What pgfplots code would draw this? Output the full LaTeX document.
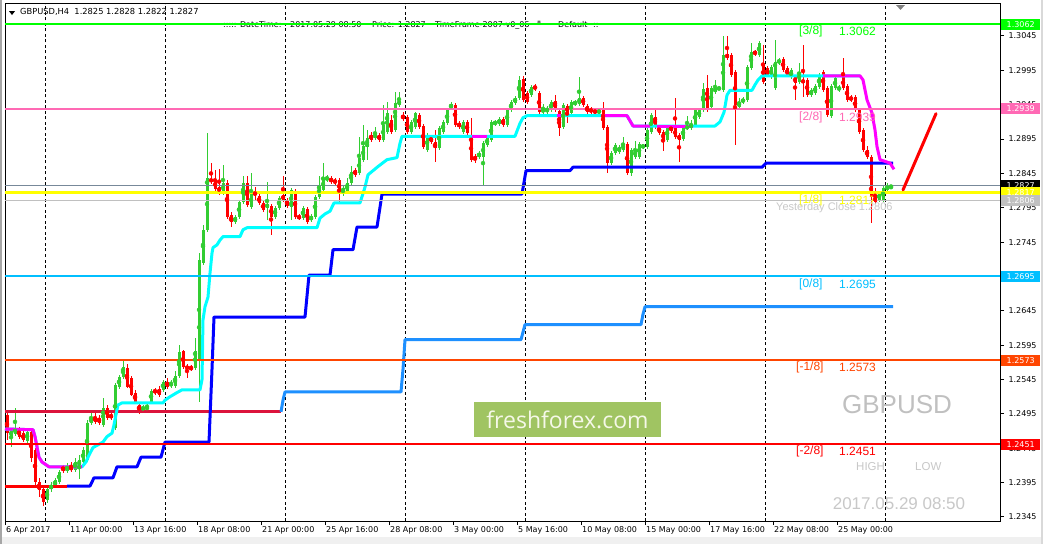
\documentclass[border=0pt]{standalone}
\usepackage{fontspec}
\setmainfont{DejaVu Sans}
\newfontfamily\arialf{Liberation Sans}
\newfontfamily\logofont{Open Sans}
\usepackage{pgfplots}
\usepackage{pgfplotstable}
\pgfplotsset{compat=1.18}

\definecolor{cgreen}{RGB}{50,205,50}
\definecolor{cred}{RGB}{255,0,0}
\definecolor{lvgreen}{RGB}{0,255,0}
\definecolor{lvpink}{RGB}{255,105,180}
\definecolor{lvyellow}{RGB}{255,255,0}
\definecolor{lvsky}{RGB}{0,191,255}
\definecolor{lvorange}{RGB}{255,69,0}
\definecolor{lvred}{RGB}{255,0,0}
\definecolor{slate}{RGB}{119,136,153}
\definecolor{silv}{RGB}{192,192,192}
\definecolor{dodger}{RGB}{30,144,255}
\definecolor{crims}{RGB}{220,20,60}
\definecolor{aqua}{RGB}{0,255,255}
\definecolor{magn}{RGB}{255,0,255}
\definecolor{logobg}{RGB}{160,196,98}
\definecolor{logotx}{RGB}{245,248,232}
\definecolor{lbl}{RGB}{200,200,200}

\newcommand\tickfont{\fontsize{8}{9}\selectfont}
\newcommand\lvfont{\arialf\fontsize{12}{14}\selectfont}

% H4 bars: index, open, high, low, close
\pgfplotstableread{
i O H L C
0 1.2494 1.2501 1.2457 1.2467
1 1.2462 1.2475 1.2447 1.2472
2 1.2466 1.2504 1.2463 1.2475
3 1.2473 1.2476 1.2459 1.2462
4 1.2467 1.2470 1.2454 1.2457
5 1.2456 1.2472 1.2453 1.2469
6 1.2469 1.2472 1.2425 1.2431
7 1.2443 1.2446 1.2392 1.2396
8 1.2396 1.2402 1.2374 1.2385
9 1.2385 1.2389 1.2361 1.2367
10 1.2370 1.2389 1.2365 1.2386
11 1.2385 1.2396 1.2382 1.2392
12 1.2390 1.2402 1.2387 1.2399
13 1.2396 1.2414 1.2393 1.2411
14 1.2419 1.2421 1.2409 1.2412
15 1.2412 1.2424 1.2409 1.2418
16 1.2418 1.2425 1.2411 1.2414
17 1.2414 1.2431 1.2411 1.2425
18 1.2419 1.2435 1.2400 1.2428
19 1.2425 1.2447 1.2422 1.2443
20 1.2428 1.2486 1.2425 1.2482
21 1.2482 1.2499 1.2479 1.2489
22 1.2491 1.2498 1.2480 1.2483
23 1.2489 1.2494 1.2479 1.2482
24 1.2479 1.2518 1.2476 1.2504
25 1.2504 1.2508 1.2486 1.2489
26 1.2494 1.2498 1.2486 1.2489
27 1.2475 1.2540 1.2472 1.2537
28 1.2534 1.2552 1.2531 1.2549
29 1.2549 1.2572 1.2546 1.2563
30 1.2562 1.2568 1.2533 1.2534
31 1.2547 1.2550 1.2521 1.2523
32 1.2526 1.2530 1.2510 1.2511
33 1.2508 1.2513 1.2495 1.2498
34 1.2502 1.2508 1.2499 1.2504
35 1.2502 1.2510 1.2501 1.2505
36 1.2513 1.2531 1.2510 1.2528
37 1.2530 1.2533 1.2523 1.2526
38 1.2531 1.2536 1.2520 1.2523
39 1.2530 1.2545 1.2527 1.2542
40 1.2542 1.2547 1.2531 1.2534
41 1.2536 1.2545 1.2533 1.2540
42 1.2536 1.2557 1.2533 1.2550
43 1.2550 1.2596 1.2547 1.2585
44 1.2586 1.2588 1.2560 1.2563
45 1.2565 1.2568 1.2547 1.2560
46 1.2563 1.2566 1.2558 1.2560
47 1.2562 1.2606 1.2559 1.2586
48 1.2574 1.2729 1.2513 1.2719
49 1.2715 1.2770 1.2712 1.2763
50 1.2763 1.2904 1.2760 1.2838
51 1.2837 1.2860 1.2830 1.2833
52 1.2836 1.2850 1.2820 1.2822
53 1.2825 1.2852 1.2814 1.2818
54 1.2817 1.2857 1.2814 1.2831
55 1.2831 1.2836 1.2779 1.2782
56 1.2785 1.2789 1.2767 1.2774
57 1.2774 1.2785 1.2771 1.2782
58 1.2782 1.2806 1.2779 1.2803
59 1.2803 1.2841 1.2801 1.2831
60 1.2831 1.2841 1.2796 1.2799
61 1.2796 1.2846 1.2793 1.2817
62 1.2818 1.2825 1.2806 1.2814
63 1.2812 1.2815 1.2799 1.2802
64 1.2802 1.2805 1.2789 1.2792
65 1.2795 1.2833 1.2777 1.2801
66 1.2798 1.2801 1.2755 1.2782
67 1.2782 1.2798 1.2779 1.2795
68 1.2795 1.2812 1.2792 1.2809
69 1.2814 1.2841 1.2803 1.2806
70 1.2806 1.2809 1.2795 1.2798
71 1.2796 1.2824 1.2777 1.2821
72 1.2820 1.2822 1.2779 1.2782
73 1.2783 1.2786 1.2777 1.2780
74 1.2780 1.2798 1.2777 1.2795
75 1.2793 1.2796 1.2771 1.2774
76 1.2777 1.2786 1.2774 1.2783
77 1.2782 1.2814 1.2779 1.2811
78 1.2811 1.2841 1.2808 1.2828
79 1.2821 1.2860 1.2815 1.2838
80 1.2837 1.2843 1.2833 1.2838
81 1.2838 1.2841 1.2830 1.2833
82 1.2836 1.2838 1.2828 1.2831
83 1.2836 1.2838 1.2802 1.2817
84 1.2818 1.2827 1.2812 1.2824
85 1.2818 1.2838 1.2815 1.2831
86 1.2831 1.2856 1.2828 1.2847
87 1.2850 1.2853 1.2840 1.2843
88 1.2846 1.2898 1.2843 1.2867
89 1.2865 1.2916 1.2862 1.2885
90 1.2884 1.2908 1.2865 1.2897
91 1.2901 1.2905 1.2891 1.2894
92 1.2897 1.2913 1.2894 1.2902
93 1.2901 1.2904 1.2891 1.2894
94 1.2894 1.2945 1.2891 1.2916
95 1.2905 1.2949 1.2902 1.2933
96 1.2923 1.2930 1.2902 1.2905
97 1.2908 1.2964 1.2905 1.2948
98 1.2945 1.2964 1.2942 1.2951
99 1.2930 1.2934 1.2921 1.2924
100 1.2927 1.2930 1.2902 1.2905
101 1.2905 1.2923 1.2902 1.2920
102 1.2913 1.2934 1.2910 1.2933
103 1.2930 1.2933 1.2910 1.2913
104 1.2914 1.2917 1.2881 1.2884
105 1.2879 1.2904 1.2876 1.2901
106 1.2898 1.2901 1.2888 1.2891
107 1.2891 1.2908 1.2862 1.2882
108 1.2882 1.2914 1.2879 1.2911
109 1.2905 1.2923 1.2902 1.2920
110 1.2918 1.2940 1.2916 1.2937
111 1.2940 1.2949 1.2937 1.2946
112 1.2945 1.2948 1.2913 1.2916
113 1.2918 1.2921 1.2910 1.2913
114 1.2905 1.2923 1.2902 1.2920
115 1.2920 1.2923 1.2901 1.2904
116 1.2898 1.2926 1.2862 1.2865
117 1.2870 1.2873 1.2860 1.2865
118 1.2869 1.2878 1.2866 1.2875
119 1.2869 1.2892 1.2828 1.2889
120 1.2887 1.2899 1.2884 1.2897
121 1.2894 1.2923 1.2891 1.2920
122 1.2917 1.2923 1.2914 1.2920
123 1.2917 1.2927 1.2914 1.2924
124 1.2924 1.2927 1.2913 1.2916
125 1.2916 1.2940 1.2913 1.2937
126 1.2937 1.2952 1.2934 1.2949
127 1.2948 1.2958 1.2945 1.2955
128 1.2955 1.2987 1.2952 1.2981
129 1.2982 1.2987 1.2949 1.2952
130 1.2962 1.2965 1.2946 1.2949
131 1.2959 1.2974 1.2956 1.2971
132 1.2972 1.2975 1.2965 1.2968
133 1.2962 1.2965 1.2932 1.2934
134 1.2934 1.2946 1.2932 1.2939
135 1.2934 1.2943 1.2932 1.2940
136 1.2937 1.2952 1.2934 1.2949
137 1.2951 1.2959 1.2934 1.2937
138 1.2936 1.2939 1.2899 1.2911
139 1.2913 1.2948 1.2910 1.2945
140 1.2943 1.2946 1.2918 1.2933
141 1.2933 1.2952 1.2930 1.2949
142 1.2946 1.2952 1.2943 1.2949
143 1.2946 1.2985 1.2943 1.2955
144 1.2955 1.2958 1.2942 1.2945
145 1.2943 1.2946 1.2932 1.2934
146 1.2939 1.2942 1.2932 1.2934
147 1.2937 1.2940 1.2930 1.2933
148 1.2933 1.2940 1.2930 1.2937
149 1.2937 1.2949 1.2908 1.2911
150 1.2913 1.2916 1.2846 1.2860
151 1.2860 1.2878 1.2857 1.2875
152 1.2875 1.2889 1.2872 1.2887
153 1.2876 1.2887 1.2873 1.2884
154 1.2879 1.2898 1.2876 1.2888
155 1.2888 1.2891 1.2843 1.2846
156 1.2846 1.2882 1.2841 1.2879
157 1.2869 1.2892 1.2866 1.2879
158 1.2869 1.2891 1.2866 1.2888
159 1.2884 1.2888 1.2881 1.2885
160 1.2884 1.2911 1.2881 1.2908
161 1.2905 1.2933 1.2902 1.2930
162 1.2927 1.2937 1.2910 1.2913
163 1.2913 1.2916 1.2901 1.2904
164 1.2905 1.2908 1.2878 1.2894
165 1.2894 1.2916 1.2891 1.2913
166 1.2913 1.2916 1.2904 1.2907
167 1.2911 1.2955 1.2895 1.2898
168 1.2901 1.2904 1.2862 1.2894
169 1.2895 1.2916 1.2892 1.2913
170 1.2911 1.2929 1.2908 1.2913
171 1.2911 1.2923 1.2908 1.2917
172 1.2916 1.2940 1.2913 1.2937
173 1.2927 1.2940 1.2924 1.2937
174 1.2937 1.2977 1.2934 1.2968
175 1.2969 1.2988 1.2934 1.2937
176 1.2942 1.2972 1.2939 1.2969
177 1.2964 1.2981 1.2961 1.2969
178 1.2968 1.2972 1.2966 1.2969
179 1.2966 1.3045 1.2963 1.3017
180 1.3019 1.3045 1.3010 1.3013
181 1.3017 1.3020 1.2985 1.2988
182 1.2993 1.2996 1.2887 1.2945
183 1.2942 1.2955 1.2939 1.2949
184 1.2949 1.2956 1.2946 1.2953
185 1.2952 1.3003 1.2949 1.3000
186 1.2998 1.3035 1.2996 1.3022
187 1.3022 1.3025 1.3016 1.3019
188 1.3017 1.3038 1.3014 1.3035
189 1.3006 1.3032 1.2975 1.2978
190 1.2998 1.3001 1.2985 1.2988
191 1.2985 1.3003 1.2982 1.3000
192 1.2969 1.3039 1.2966 1.3007
193 1.3006 1.3013 1.3003 1.3010
194 1.3011 1.3014 1.2993 1.2996
195 1.2998 1.3001 1.2985 1.2988
196 1.2985 1.2998 1.2982 1.2996
197 1.2985 1.2988 1.2952 1.2977
198 1.2978 1.3006 1.2975 1.2993
199 1.2981 1.3032 1.2956 1.2977
200 1.2981 1.2984 1.2956 1.2959
201 1.2959 1.2969 1.2956 1.2966
202 1.2962 1.2975 1.2959 1.2972
203 1.2971 1.2991 1.2968 1.2988
204 1.2993 1.2996 1.2964 1.2966
205 1.2969 1.2972 1.2927 1.2930
206 1.2929 1.2975 1.2926 1.2972
207 1.2969 1.2987 1.2966 1.2984
208 1.2966 1.2974 1.2964 1.2971
209 1.2985 1.3013 1.2966 1.2969
210 1.2972 1.2975 1.2949 1.2952
211 1.2956 1.2959 1.2949 1.2952
212 1.2956 1.2959 1.2934 1.2937
213 1.2937 1.2940 1.2902 1.2905
214 1.2908 1.2911 1.2876 1.2879
215 1.2879 1.2885 1.2866 1.2869
216 1.2869 1.2872 1.2773 1.2811
217 1.2812 1.2824 1.2801 1.2803
218 1.2806 1.2820 1.2803 1.2817
219 1.2806 1.2828 1.2803 1.2824
220 1.2821 1.2831 1.2818 1.2827
221 1.2825 1.2828 1.2822 1.2827
}\candles

\begin{document}
\begin{tikzpicture}
\fill[white] (-5pt,-23pt) rectangle (1038pt,521pt);
\fill[black!6] (-5pt,-23pt) rectangle (1038pt,-16pt);
\fill[black!35] (-5pt,-23pt) rectangle (-3pt,521pt);
\fill[black!15] (1036pt,-23pt) rectangle (1038pt,521pt);
\begin{axis}[
    at={(0pt,0pt)}, anchor=south west,
    width=995pt, height=517pt, scale only axis,
    xmin=-0.5, xmax=248.25, ymin=1.233913, ymax=1.309157,
    clip=false,
    axis line style={black, line width=1pt},
    tick align=outside,
    xtick pos=left, ytick pos=right, yticklabel pos=right,
    major tick length=4pt,
    tick style={black, line width=1pt},
    xtick={-0.5,15.5,...,207.5},
    xticklabels={6 Apr 2017, 11 Apr 00:00, 13 Apr 16:00, 18 Apr 08:00, 21 Apr 00:00, 25 Apr 16:00, 28 Apr 08:00, 3 May 00:00, 5 May 16:00, 10 May 08:00, 15 May 00:00, 17 May 16:00, 22 May 08:00, 25 May 00:00},
    xticklabel style={anchor=north west, font=\tickfont, inner sep=1pt},
    ytick={1.2345,1.2395,1.2445,1.2495,1.2545,1.2595,1.2645,1.2695,1.2745,1.2795,1.2845,1.2895,1.2945,1.2995,1.3045},
    scaled y ticks=false,
    yticklabel style={anchor=west, font=\tickfont, xshift=1pt, /pgf/number format/.cd, fixed, fixed zerofill, precision=4, assume math mode=true},
    extra x ticks={9.5,39.5,...,219.5},
    extra x tick labels={},
    extra x tick style={grid=major, major tick length=0pt},
    major grid style={black, line width=0.8pt, dash pattern=on 3pt off 2.5pt},
]
% wicks
\addplot[only marks, mark=none, cgreen, error bars/.cd, y dir=both, y explicit, error mark=none, error bar style={line width=1pt, cgreen}]
  table[x=i, y expr={\thisrow{C}>=\thisrow{O} ? (\thisrow{H}+\thisrow{L})/2 : nan}, y error expr={(\thisrow{H}-\thisrow{L})/2}] {\candles};
\addplot[only marks, mark=none, cred, error bars/.cd, y dir=both, y explicit, error mark=none, error bar style={line width=1pt, cred}]
  table[x=i, y expr={\thisrow{C}<\thisrow{O} ? (\thisrow{H}+\thisrow{L})/2 : nan}, y error expr={(\thisrow{H}-\thisrow{L})/2}] {\candles};
% bodies
\addplot[only marks, mark=none, cgreen, error bars/.cd, y dir=both, y explicit, error mark=none, error bar style={line width=3pt, cgreen}]
  table[x=i, y expr={\thisrow{C}>=\thisrow{O} ? (\thisrow{O}+\thisrow{C})/2 : nan}, y error expr={max(abs(\thisrow{C}-\thisrow{O})/2,0.00005)}] {\candles};
\addplot[only marks, mark=none, cred, error bars/.cd, y dir=both, y explicit, error mark=none, error bar style={line width=3pt, cred}]
  table[x=i, y expr={\thisrow{C}<\thisrow{O} ? (\thisrow{O}+\thisrow{C})/2 : nan}, y error expr={max(abs(\thisrow{C}-\thisrow{O})/2,0.00005)}] {\candles};

% lower step lines
\addplot[crims, line width=3pt] coordinates {(-0.5,1.2498) (68.5,1.2498)};
\addplot[dodger, line width=3pt, line join=round] coordinates {(68.5,1.2498) (69,1.2515) (69.5,1.2527) (98.5,1.2527) (99,1.2560) (99.5,1.2603) (128.5,1.2603) (129,1.2614) (129.5,1.2625) (158.5,1.2625) (159,1.2640) (159.5,1.2651) (221.5,1.2651)};
\addplot[lvred, line width=3pt] coordinates {(-0.5,1.2390) (15,1.2390)};
\addplot[blue, line width=3pt, line join=round] coordinates {(15,1.2390) (20.75,1.2390) (21.75,1.2402) (26.5,1.2402) (27.5,1.2418) (32.5,1.2418) (33.5,1.2432) (38.5,1.2432) (39.5,1.2454) (50.5,1.2454) (51.25,1.2560) (51.75,1.2636) (74.5,1.2636) (75.5,1.2697) (80.75,1.2697) (81.5,1.2734) (86.5,1.2734) (87.5,1.2767) (92.5,1.2767) (93.75,1.2815) (128.75,1.2815) (129.75,1.2849) (140.75,1.2849) (141.5,1.2854) (188.75,1.2854) (189.75,1.2860) (221.5,1.2860)};

% trailing line
\addplot[aqua, line width=3pt, line join=round] coordinates {(-0.5,1.2473) (6.5,1.2472) (7,1.2462) (7.5,1.2447) (8,1.2432) (8.75,1.2425) (9.5,1.2422) (10.5,1.2418) (18.75,1.2418) (19.75,1.2425) (20.5,1.2435) (21.5,1.2446) (22.75,1.2450) (24,1.2454) (25,1.2462) (26.25,1.2467) (26.75,1.2479) (27.25,1.2494) (27.75,1.2508) (28.75,1.2511) (39,1.2511) (39.5,1.2515) (40.75,1.2520) (42.5,1.2526) (43.75,1.2530) (48.25,1.2530) (48.75,1.2545) (49,1.2632) (49.5,1.2651) (50.25,1.2665) (50.75,1.2700) (51.25,1.2729) (51.5,1.2737) (52.5,1.2741) (53.25,1.2748) (54,1.2753) (58.25,1.2753) (59,1.2763) (60,1.2766) (77.5,1.2766) (78.25,1.2780) (79.5,1.2786) (80.75,1.2790) (81.75,1.2802) (88.25,1.2802) (89.5,1.2825) (90.25,1.2843) (92.75,1.2855) (95,1.2865) (97.5,1.2868) (98.25,1.2889) (98.75,1.2899) (127,1.2899) (128.25,1.2918) (129,1.2926) (130,1.2929) (155,1.2929) (156.5,1.2914) (177,1.2914) (178.25,1.2920) (179.25,1.2934) (180,1.2959) (180.75,1.2966) (186.25,1.2966) (187,1.2974) (187.75,1.2981) (188.75,1.2987) (213.25,1.2987)};
\addplot[magn, line width=3pt, line join=round] coordinates {(-0.5,1.2473) (6.5,1.2472) (7,1.2462) (7.5,1.2447) (8,1.2432) (8.75,1.2425) (9.5,1.2422) (10.5,1.2418) (18.75,1.2418)};
\addplot[magn, line width=3pt] coordinates {(116.25,1.2899) (120,1.2899)};
\addplot[magn, line width=3pt] coordinates {(137.5,1.2929) (138.75,1.2929)};
\addplot[magn, line width=3pt, line join=round] coordinates {(148.75,1.2929) (155,1.2929) (156.5,1.2914) (160.75,1.2914)};
\addplot[magn, line width=3pt] coordinates {(162.5,1.2914) (171.5,1.2914)};
\addplot[magn, line width=3pt, line join=round] coordinates {(204,1.2987) (213.25,1.2987) (214,1.2981) (215,1.2952) (216.25,1.2933) (217,1.2908) (217.5,1.2884) (218.25,1.2865) (220.75,1.2860) (221.75,1.2851)};

% header texts
\fill[black] (axis cs:0.5,1.30812) -- (axis cs:2,1.30812) -- (axis cs:1.25,1.30755) -- cycle;
\node[anchor=west, inner sep=0, font=\fontsize{8.3}{9}\selectfont] at (axis cs:3.25,1.30799) {GBPUSD,H4\ \ 1.2825 1.2828 1.2822 1.2827};
\node[anchor=west, inner sep=0, font=\tickfont] at (axis cs:54,1.3061) {::::: DateTime:};
\node[anchor=west, inner sep=0, font=\tickfont] at (axis cs:70.75,1.3061) {2017.05.29 08:50};
\node[anchor=west, inner sep=0, font=\tickfont] at (axis cs:91.25,1.3061) {Price: 1.2827};
\node[anchor=west, inner sep=0, font=\tickfont] at (axis cs:107,1.3061) {TimeFrame-2007-v0\_05};
\node[anchor=west, inner sep=0, font=\tickfont] at (axis cs:132.5,1.3063) {*};
\node[anchor=west, inner sep=0, font=\tickfont] at (axis cs:137.75,1.3061) {Default};
\node[anchor=west, inner sep=0, font=\tickfont] at (axis cs:146.5,1.3061) {::};
\fill[gray] (axis cs:222.25,1.30901) -- (axis cs:224.5,1.30901) -- (axis cs:223.375,1.30829) -- cycle;

% level lines
\addplot[lvgreen, line width=2pt] coordinates {(-0.5,1.3062) (248.25,1.3062)};
\addplot[lvpink, line width=2pt] coordinates {(-0.5,1.2939) (248.25,1.2939)};
\addplot[slate, line width=1pt] coordinates {(-0.5,1.2827) (248.25,1.2827)};
\addplot[lvyellow, line width=2.5pt] coordinates {(-0.5,1.2817) (248.25,1.2817)};
\addplot[silv, line width=1pt] coordinates {(-0.5,1.2806) (248.25,1.2806)};
\addplot[lvsky, line width=2pt] coordinates {(-0.5,1.2695) (248.25,1.2695)};
\addplot[lvorange, line width=2pt] coordinates {(-0.5,1.2573) (248.25,1.2573)};
\addplot[lvred, line width=2pt] coordinates {(-0.5,1.2451) (248.25,1.2451)};
\addplot[lvred, line width=3pt, line cap=round] coordinates {(224,1.2821) (232.25,1.2932)};

% level labels
\node[anchor=west, inner sep=0, font=\lvfont, text=lvgreen] at (axis cs:198,1.3051) {[3/8]};
\node[anchor=west, inner sep=0, font=\lvfont, text=lvgreen] at (axis cs:208,1.3051) {1.3062};
\node[anchor=west, inner sep=0, font=\lvfont, text=lvpink] at (axis cs:198,1.2927) {[2/8]};
\node[anchor=west, inner sep=0, font=\lvfont, text=lvpink] at (axis cs:208,1.2927) {1.2939};
\node[anchor=west, inner sep=0, font=\lvfont, text=lvyellow] at (axis cs:198,1.2806) {[1/8]};
\node[anchor=west, inner sep=0, font=\lvfont, text=lvyellow] at (axis cs:208,1.2806) {1.2817};
\node[anchor=west, inner sep=0, font=\arialf\fontsize{11}{13}\selectfont, text=lbl] at (axis cs:192.25,1.2795) {Yesterday Close 1.2806};
\node[anchor=west, inner sep=0, font=\lvfont, text=lvsky] at (axis cs:198,1.2684) {[0/8]};
\node[anchor=west, inner sep=0, font=\lvfont, text=lvsky] at (axis cs:208,1.2684) {1.2695};
\node[anchor=west, inner sep=0, font=\lvfont, text=lvorange] at (axis cs:197.25,1.2562) {[-1/8]};
\node[anchor=west, inner sep=0, font=\lvfont, text=lvorange] at (axis cs:208,1.2562) {1.2573};
\node[anchor=west, inner sep=0, font=\lvfont, text=lvred] at (axis cs:197.25,1.2440) {[-2/8]};
\node[anchor=west, inner sep=0, font=\lvfont, text=lvred] at (axis cs:208,1.2440) {1.2451};
\node[inner sep=0, font=\arialf\fontsize{26}{28}\selectfont, text=silv] at (axis cs:222.5,1.2508) {GBPUSD};
\node[anchor=west, inner sep=0, font=\arialf\fontsize{11.5}{13}\selectfont, text=lbl] at (axis cs:212.25,1.2418) {HIGH};
\node[anchor=west, inner sep=0, font=\arialf\fontsize{11.5}{13}\selectfont, text=lbl] at (axis cs:227,1.2418) {LOW};
\node[inner sep=0, font=\arialf\fontsize{17}{19}\selectfont, text=lbl] at (axis cs:223,1.2364) {2017.05.29 08:50};
\node[fill=logobg, minimum width=187pt, minimum height=35pt, inner sep=0, font=\logofont\fontsize{23}{26}\selectfont, text=logotx] at (axis cs:140.125,1.2487) {freshforex.com};

% price boxes on the scale
\tikzset{pbox/.style={anchor=west, xshift=1pt, minimum width=39pt, minimum height=11pt, inner sep=0, font=\tickfont, text=white, fill=#1}}
\node[pbox=lvgreen] at (axis cs:248.25,1.3062) {1.3062};
\node[pbox=lvpink] at (axis cs:248.25,1.2939) {1.2939};
\node[pbox=black] at (axis cs:248.25,1.2827) {1.2827};
\node[pbox=lvyellow] at (axis cs:248.25,1.2817) {1.2817};
\node[pbox=silv] at (axis cs:248.25,1.2806) {1.2806};
\node[pbox=lvsky] at (axis cs:248.25,1.2695) {1.2695};
\node[pbox=lvorange] at (axis cs:248.25,1.2573) {1.2573};
\node[pbox=lvred] at (axis cs:248.25,1.2451) {1.2451};
\end{axis}
\pgfresetboundingbox
\useasboundingbox (-5pt,-23pt) rectangle (1038pt,521pt);
\end{tikzpicture}
\end{document}
